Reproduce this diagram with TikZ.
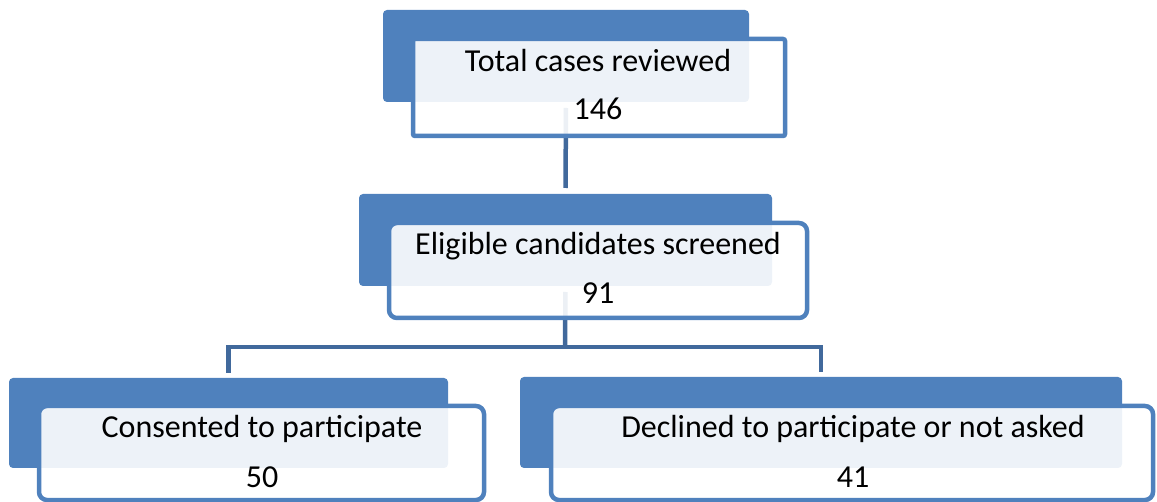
\documentclass[tikz,border=0pt]{standalone}
\usepackage{fontspec}
\setmainfont{Carlito}
\definecolor{accent}{HTML}{4F81BD}
\definecolor{connc}{HTML}{41699C}
\begin{document}
\begin{tikzpicture}[x=1pt,y=-1pt,
  backbox/.style={rectangle, fill=accent, rounded corners=4pt, inner sep=0pt, outer sep=0pt},
  frontbox/.style={rectangle, draw=accent, line width=4.5pt, fill=white, fill opacity=0.9, rounded corners=8pt, inner sep=0pt, outer sep=0pt},
  conn/.style={draw=connc, line width=4.5pt},
  lbl/.style={font=\fontsize{32}{38}\selectfont, anchor=base, inner sep=0pt, text=black}]
\useasboundingbox (0,0) rectangle (1157,502);
% back boxes
\node[backbox, minimum width=366pt, minimum height=92pt] (b1) at (566,56) {};
\node[backbox, minimum width=413pt, minimum height=92pt] (b2) at (565.5,240) {};
\node[backbox, minimum width=439pt, minimum height=90pt] (b3) at (228.5,423) {};
\node[backbox, minimum width=602pt, minimum height=91pt] (b4) at (821,422.5) {};
% connectors
\coordinate (split) at (565,347);
\draw[conn, shorten <=6pt, shorten >=6pt] (b1.south) -- (b2.north);
\draw[conn, shorten <=6pt] (b2.south) -- (split);
\draw[conn, shorten >=5pt] (split) -| (b3.north);
\draw[conn, shorten >=5pt] (split) -| (b4.north);
% front boxes
\node[frontbox, rounded corners=2pt, minimum width=372pt, minimum height=97pt] (f1) at (599,87.5) {};
\node[frontbox, minimum width=418pt, minimum height=95pt] (f2) at (598,270.5) {};
\node[frontbox, minimum width=445pt, minimum height=94pt] (f3) at (261.5,453) {};
\node[frontbox, minimum width=602pt, minimum height=94pt] (f4) at (852,453) {};
% texts
\node[lbl] (t1a) at (598,72) {Total cases reviewed};
\node[lbl] (t1b) at (598,120) {146};
\node[lbl] (t2a) at (598,255) {Eligible candidates screened};
\node[lbl] (t2b) at (598,304) {91};
\node[lbl] (t3a) at (262,438) {Consented to participate};
\node[lbl] (t3b) at (262,487) {50};
\node[lbl] (t4a) at (853,438) {Declined to participate or not asked};
\node[lbl] (t4b) at (853,487) {41};
\end{tikzpicture}
\end{document}
